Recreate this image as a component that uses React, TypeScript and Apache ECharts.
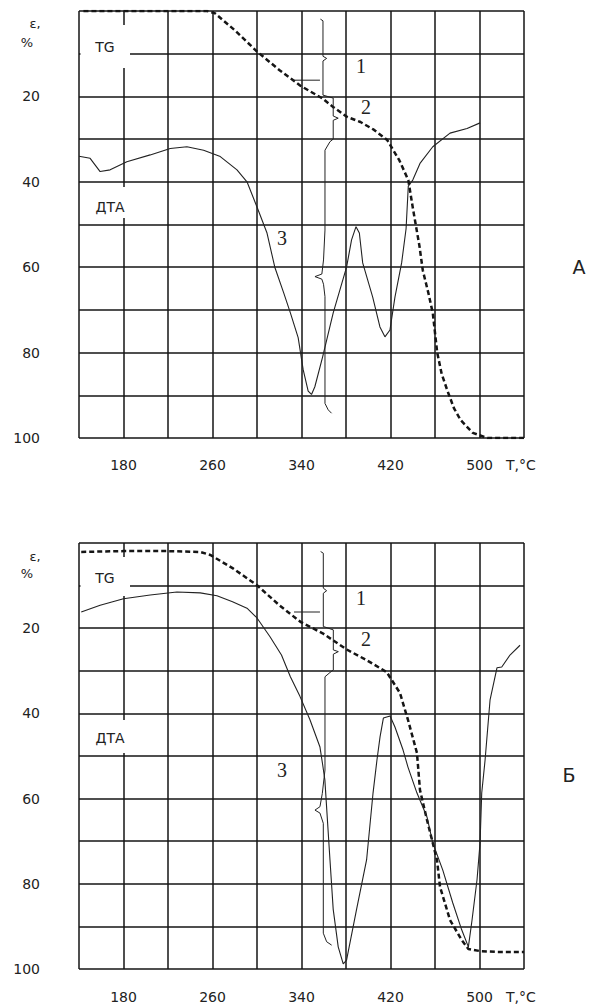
import React, { useEffect, useRef } from 'react';
import * as echarts from 'echarts';

// Tick labels shown on the axes
const xTickLabels = [180, 260, 340, 420, 500];
const yTickLabels = [20, 40, 60, 80, 100];

// Panel A — TG (mass loss, dashed) [T, ε%]
const tgA: number[][] = [
  [144, 0], [180, 0], [220, 0], [255, 0], [262, 0.5], [280, 4.5], [300, 9.5], [320, 13.8],
  [339, 17.5], [359, 20.5], [368, 22.4], [381, 24.8], [393, 26], [405, 27.8], [417, 30.2],
  [428, 35], [436, 39.6], [440, 46], [446, 55], [449, 60.7], [454, 66], [458, 70.7],
  [462, 80], [466, 85], [471, 88.8], [477, 93], [483, 95.8], [494, 98.8], [507, 100], [540, 100],
];
// Panel A — DTA (thin solid)
const dtaA: number[][] = [
  [140, 34], [150, 34.5], [159, 37.6], [168, 37.2], [183, 35.3], [204, 33.7], [222, 32.2],
  [237, 31.8], [252, 32.6], [267, 34.1], [282, 37.2], [291, 40], [300, 45.9], [309, 52],
  [316, 60], [324, 66], [330, 70.7], [337, 76.5], [341.5, 84], [346, 89], [349, 89.8],
  [352, 88], [359, 81], [368.5, 70.7], [380.5, 60], [385, 53.6], [389, 50.5], [392, 52],
  [395, 59], [404, 67], [410.5, 74], [415, 76.3], [419.5, 74.7], [424, 67], [430, 59],
  [434, 51], [436, 41], [440, 39.6], [446.5, 35.7], [458, 31.8], [473.5, 28.6],
  [488.8, 27.5], [500.5, 26.2],
];
// Panel A — bracket annotations (steps 1, 2, 3)
const bracketA: number[][] = [
  [357, 1.9], [359.3, 2.3], [359.3, 10.6], [362.6, 11.1], [359.3, 11.7], [359.3, 19.7],
  [368.5, 20.4], [368.5, 24.6], [373, 25.1], [368.5, 25.6], [368.5, 30], [365.6, 30.6],
  [361.1, 32.6], [361.1, 51.3], [359.8, 58.3], [358.3, 61.6], [352.1, 62.2], [358.3, 62.8],
  [359.8, 64], [361.1, 66.9], [361.1, 91.9], [364, 93.4], [367, 94.2],
];
const tickA: number[][] = [[332, 16.2], [356.6, 16.2]];

// Panel Б — TG
const tgB: number[][] = [
  [142, 2.1], [180, 1.9], [220, 1.9], [249, 2.1], [258, 2.8], [278, 5.9], [300, 9.9],
  [320, 14.6], [339, 18.5], [359, 21.2], [380.6, 25], [398.6, 27.5], [416.6, 30.3],
  [428.5, 35.2], [435.7, 41.5], [443.8, 49.3], [446.5, 58], [452.8, 65], [457.3, 69.7],
  [461.8, 74.4], [464.5, 80.7], [473.5, 88.5], [484, 93.2], [490, 95.3], [500.5, 95.8],
  [515.7, 96], [540, 96],
];
// Panel Б — DTA
const dtaB: number[][] = [
  [142, 16.2], [159, 14.6], [180, 13.1], [204, 12.2], [228, 11.5], [249, 11.7], [264, 12.4],
  [278, 13.8], [291, 15.3], [300, 17.6], [311.7, 22], [322, 26.3], [330, 31.4], [338.6, 36],
  [347.6, 41.5], [356.6, 47.9], [359, 52], [361, 55.6], [365.6, 74.4], [368.5, 86],
  [373, 94.8], [377.5, 98.8], [380.5, 97.9], [389.5, 86], [398.5, 74.4], [404.3, 58.7],
  [407.8, 51], [410.6, 45.5], [413.6, 41.1], [419.6, 40.6], [424, 43.2], [431.3, 48.6],
  [435.7, 52.6], [443.8, 58.7], [452.8, 64.3], [458, 70.4], [467, 76.8], [476, 84.5],
  [484, 90.8], [490, 94.8], [493.3, 88.5], [497.8, 79], [500.5, 70.4], [502, 58.7],
  [505, 51], [509.5, 36.8], [515.7, 29.3], [520, 29.1], [527.4, 26.3], [536.4, 24],
];
const bracketB: number[][] = [
  [357.2, 2.0], [359.6, 2.4], [359.6, 10.6], [362.6, 11.2], [359.6, 11.8], [359.6, 19.6],
  [368.6, 20.4], [368.6, 25.1], [373.1, 25.5], [368.6, 26.1], [368.6, 29.8], [365.6, 30.4],
  [361.1, 31.4], [361.1, 53.3], [358.7, 58.8], [356.6, 61.9], [352.1, 62.7], [356.6, 63.4],
  [359.6, 65.8], [359.6, 91.6], [362.6, 93.6], [367.1, 94.4],
];
const tickB: number[][] = [[333.3, 16.2], [356.6, 16.2]];

export default function App() {
  const ref = useRef<HTMLDivElement>(null);
  useEffect(() => {
    const chart = echarts.init(ref.current as HTMLDivElement, null, { renderer: 'svg' });
    const FONT = 'DejaVu Sans';
    const INK = '#151515';
    const mkX = (gridIndex: number, margin: number) => ({
      type: 'value', gridIndex, min: 140, max: 540, interval: 20,
      axisLine: { show: false }, axisTick: { show: false },
      splitLine: { show: true, lineStyle: { color: [INK, 'rgba(0,0,0,0)'], width: 1.5 } },
      axisLabel: {
        margin, fontFamily: FONT, fontSize: 14, color: '#222',
        formatter: (v: number) => (xTickLabels.includes(v) ? String(v) : ''),
      },
    });
    const mkY = (gridIndex: number) => ({
      type: 'value', gridIndex, min: 0, max: 100, interval: 10, inverse: true,
      axisLine: { show: false }, axisTick: { show: false },
      splitLine: { show: true, lineStyle: { color: INK, width: 1.5 } },
      axisLabel: {
        margin: 39, fontFamily: FONT, fontSize: 14, color: '#222',
        formatter: (v: number) => (yTickLabels.includes(v) ? String(v) : ''),
      },
    });
    const tgStyle = { color: INK, width: 2.5, type: [5, 3] };
    const dtaStyle = { color: '#222', width: 1.1 };
    const brStyle = { color: '#222', width: 1 };
    const line = (data: number[][], idx: number, lineStyle: any, smooth = false) => ({
      type: 'line', data, xAxisIndex: idx, yAxisIndex: idx, showSymbol: false, symbol: 'none',
      smooth, lineStyle, silent: true, z: 3,
    });
    const txt = (text: string, x: number, y: number, font: string, align = 'center') => ({
      type: 'text', x, y, z: 5,
      style: { text, fill: '#222', font, textAlign: align, verticalAlign: 'middle', textVerticalAlign: 'middle' },
    });
    const gap = (x: number, y: number, w: number, h: number) => ({
      type: 'rect', shape: { x, y, width: w, height: h }, style: { fill: '#fff' }, z: 1, silent: true,
    });
    const sans = `14px ${FONT}`;
    const serif = '20px "Liberation Serif"';
    const offB = 532;
    chart.setOption({
      animation: false,
      backgroundColor: '#fff',
      grid: [
        { left: 79, top: 11, width: 445, height: 427 },
        { left: 79, top: 543, width: 445, height: 426 },
      ],
      xAxis: [mkX(0, 20), mkX(1, 21)],
      yAxis: [mkY(0), mkY(1)],
      series: [
        line(tgA, 0, tgStyle),
        line(dtaA, 0, dtaStyle),
        line(bracketA, 0, brStyle),
        line(tickA, 0, brStyle),
        line(tgB, 1, tgStyle),
        line(dtaB, 1, dtaStyle),
        line(bracketB, 1, brStyle),
        line(tickB, 1, brStyle),
      ],
      graphic: [
        gap(80.5, 25, 49.5, 43),
        gap(88, 187, 40, 31),
        gap(80.5, 557, 49.5, 39),
        gap(88, 720, 40, 33),
        txt('ε,', 35, 23, `13px ${FONT}`),
        txt('%', 27, 42, `13px ${FONT}`),
        txt('TG', 105, 47, sans),
        txt('ДТА', 110, 207, sans),
        txt('1', 361, 66, serif),
        txt('2', 366, 107, serif),
        txt('3', 282, 238, serif),
        txt('А', 579, 267, `19px ${FONT}`),
        txt('T,°C', 506, 465, sans, 'left'),
        txt('ε,', 35, 556, `13px ${FONT}`),
        txt('%', 27, 573, `13px ${FONT}`),
        txt('TG', 105, 578, sans),
        txt('ДТА', 110, 738, sans),
        txt('1', 361, 66 + offB, serif),
        txt('2', 366, 107 + offB, serif),
        txt('3', 282, 238 + offB, serif),
        txt('Б', 569, 775, `19px ${FONT}`),
        txt('T,°C', 506, 997, sans, 'left'),
      ],
    });
    return () => chart.dispose();
  }, []);
  return <div ref={ref} style={{ position: 'absolute', left: 0, top: 0, width: 594, height: 1005 }} />;
}
